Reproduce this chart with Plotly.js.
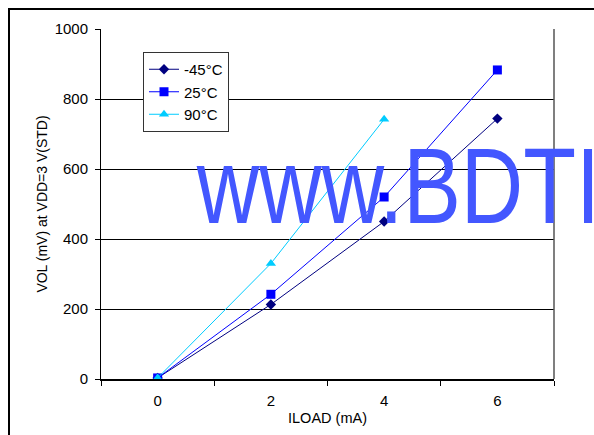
<!DOCTYPE html>
<html>
<head>
<meta charset="utf-8">
<script src="https://cdn.plot.ly/plotly-3.0.1.min.js"></script>
<style>
  html, body { margin: 0; padding: 0; background: #fff; }
  #wrap { position: relative; width: 594px; height: 435px; overflow: hidden; }
  #chart { position: absolute; left: 0; top: 0; width: 594px; height: 435px; }
  #frame { position: absolute; left: 8px; top: 8px; width: 700px; height: 600px;
           border-top: 2px solid #000; border-left: 2px solid #000; pointer-events: none; }
</style>
</head>
<body>
<div id="wrap">
  <div id="chart"></div>
  <div id="frame"></div>
</div>
<script>
// ---- data ----
const categories = ["0", "2", "4", "6"];
const seriesNames = ["-45°C", "25°C", "90°C"];
const volMinus45 = [3, 213, 450, 744];
const vol25 = [3, 242, 520, 883];
const vol90 = [3, 330, 742];
const yTicks = [0, 200, 400, 600, 800, 1000];
const xTitle = "ILOAD (mA)";
const yTitle = "VOL (mV) at VDD=3 V(STD)";
const watermark = "www.BDTIC.com";

const FONT = "Liberation Sans, Arial, sans-serif";

const traces = [
  {
    x: categories, y: volMinus45, name: seriesNames[0], legendgroup: "a", type: "scatter", mode: "lines+markers",
    line: { color: "#000080", width: 1 },
    marker: { symbol: "diamond", size: 8, color: "#000080" }
  },
  {
    x: categories, y: vol25, name: seriesNames[1], legendgroup: "b", type: "scatter", mode: "lines+markers",
    line: { color: "#0000FF", width: 1 },
    marker: { symbol: "square", size: 9, color: "#0000FF" }
  },
  {
    x: categories.slice(0, vol90.length), y: vol90, name: seriesNames[2], legendgroup: "c", type: "scatter", mode: "lines+markers",
    line: { color: "#00CCFF", width: 1 },
    marker: { symbol: "triangle-up", size: 9, color: "#00CCFF" }
  }
];

const layout = {
  width: 594, height: 435,
  margin: { l: 101, r: 40, t: 29, b: 56, pad: 0, autoexpand: false },
  paper_bgcolor: "#ffffff",
  plot_bgcolor: "#ffffff",
  font: { family: FONT, size: 15, color: "#000" },
  showlegend: true,
  legend: {
    x: (143 - 101) / 453, y: (379 - 52) / 350, xref: "paper", yref: "paper",
    xanchor: "left", yanchor: "top",
    bgcolor: "#ffffff", bordercolor: "#333", borderwidth: 1,
    font: { family: FONT, size: 15, color: "#000" },
    itemwidth: 30, tracegroupgap: 6, traceorder: "normal"
  },
  xaxis: {
    type: "category",
    range: [-0.5, 3.5],
    tickson: "boundaries",
    ticks: "outside", ticklen: 5, tickwidth: 1, tickcolor: "#000",
    ticklabelstandoff: 7,
    showline: true, linecolor: "#000", linewidth: 2,
    showgrid: false, zeroline: false,
    tickfont: { family: FONT, size: 15, color: "#000" },
    title: { text: xTitle, font: { family: FONT, size: 14.5, color: "#000" }, standoff: 5 },
    fixedrange: true
  },
  yaxis: {
    range: [0, 1000],
    tickvals: yTicks,
    ticktext: yTicks.map(String),
    ticks: "outside", ticklen: 5, tickwidth: 1, tickcolor: "#000",
    ticklabelstandoff: 4,
    showline: true, linecolor: "#000", linewidth: 1,
    showgrid: true, gridcolor: "#000", gridwidth: 1,
    zeroline: false,
    tickfont: { family: FONT, size: 15, color: "#000" },
    title: { text: yTitle, font: { family: FONT, size: 14, color: "#000" }, standoff: 3 },
    fixedrange: true
  },
  shapes: [
    { type: "line", xref: "paper", yref: "paper", x0: 1, x1: 1, y0: 0, y1: 1,
      line: { color: "#555", width: 1.5 } }
  ],
  annotations: [
    {
      text: watermark, xref: "paper", yref: "paper", x: 0.205, y: 0.553,
      xanchor: "left", yanchor: "middle", showarrow: false,
      font: { family: "Liberation Sans, Arial, sans-serif", size: 108, color: "#4357FF" }
    }
  ]
};

const gd = document.getElementById("chart");
function squeezeWatermark() {
  // the watermark font in the reference is condensed: squeeze it horizontally
  const t = gd.querySelector(".annotation-text");
  if (t && !t.getAttribute("data-squeezed")) {
    const bb = t.getBBox();
    const sx = 0.8;
    const prev = t.getAttribute("transform") || "";
    t.setAttribute("transform", prev + " translate(" + bb.x + ",0) scale(" + sx + ",1) translate(" + (-bb.x) + ",0)");
    t.setAttribute("data-squeezed", "1");
  }
}
Plotly.newPlot(gd, traces, layout, { displayModeBar: false, staticPlot: true }).then(function () {
  squeezeWatermark();
  gd.on("plotly_afterplot", squeezeWatermark);
  setTimeout(squeezeWatermark, 50);
});
</script>
</body>
</html>
